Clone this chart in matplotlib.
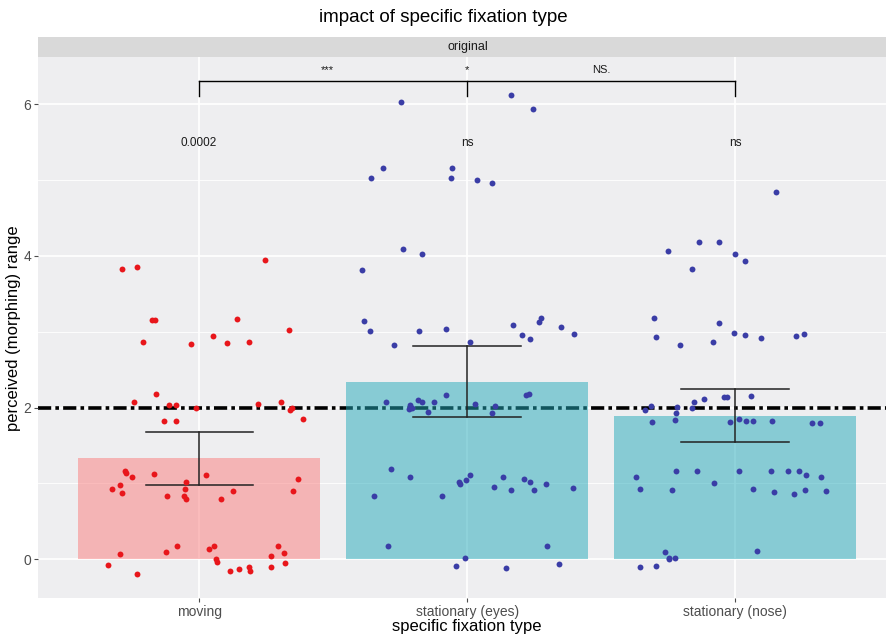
import matplotlib
matplotlib.use("Agg")
import matplotlib.pyplot as plt
import numpy as np

plt.rcParams['font.family'] = ['Liberation Sans', 'DejaVu Sans']
plt.rcParams['lines.scale_dashes'] = False

categories = ["moving", "stationary (eyes)", "stationary (nose)"]
bar_means = [1.33, 2.34, 1.89]
err_low = [0.98, 1.88, 1.55]
err_high = [1.68, 2.81, 2.24]
p_labels = ["0.0002", "ns", "ns"]
bracket_labels = ["***", "*", "NS."]
ref_level = 2.0

moving_jit = [-0.288, -0.231, 0.247, -0.176, -0.164, 0.141, 0.335, -0.209, -0.030, 0.053,
              0.104, 0.185, -0.162, -0.244, -0.113, -0.086, -0.011, 0.221, 0.306, 0.340,
              0.348, 0.387, -0.132, -0.087, -0.276, -0.272, -0.249, -0.167, -0.049, 0.026,
              0.369, -0.325, -0.295, -0.286, -0.121, -0.053, -0.055, -0.050, 0.081, 0.128,
              0.351, -0.081, -0.122, -0.294, 0.038, 0.057, 0.062, 0.066, 0.294, 0.316,
              0.268, -0.341, -0.231, 0.115, 0.148, 0.185, 0.191, 0.270, 0.321]
moving_y = [3.83, 3.85, 3.95, 3.16, 3.15, 3.17, 3.02, 2.87, 2.84, 2.94,
            2.85, 2.86, 2.18, 2.08, 2.03, 2.03, 2.00, 2.05, 2.08, 1.97,
            1.99, 1.85, 1.83, 1.83, 1.17, 1.14, 1.08, 1.13, 1.02, 1.11,
            1.06, 0.93, 0.98, 0.88, 0.83, 0.93, 0.83, 0.80, 0.80, 0.90,
            0.90, 0.18, 0.10, 0.07, 0.13, 0.17, 0.00, -0.04, 0.18, 0.08,
            0.04, -0.07, -0.19, -0.15, -0.13, -0.10, -0.16, -0.10, -0.05]

eyes_jit = [-0.246, 0.165, 0.247, -0.315, -0.359, -0.056, -0.061, 0.036, 0.092, -0.238,
            -0.169, -0.393, -0.385, 0.276, 0.269, 0.173, -0.361, -0.179, -0.079, 0.205,
            0.234, 0.350, 0.399, -0.271, 0.011, -0.301, -0.212, -0.218, -0.204, -0.183,
            -0.169, -0.147, -0.124, -0.079, 0.029, 0.104, 0.094, 0.219, 0.230, -0.284,
            -0.212, -0.348, -0.094, -0.030, -0.027, -0.003, 0.009, 0.134, 0.101, 0.163,
            0.214, 0.234, 0.249, 0.294, 0.394, -0.294, 0.297, -0.009, -0.042, 0.144, 0.344]
eyes_y = [6.03, 6.12, 5.94, 5.16, 5.03, 5.16, 5.03, 5.00, 4.96, 4.09,
          4.03, 3.81, 3.14, 3.18, 3.13, 3.09, 3.01, 3.01, 3.04, 2.96,
          2.90, 3.06, 2.97, 2.83, 2.87, 2.07, 2.03, 1.98, 2.00, 2.10,
          2.07, 1.94, 2.07, 2.17, 2.05, 2.02, 1.93, 2.17, 2.18, 1.19,
          1.08, 0.83, 0.84, 1.02, 0.99, 1.05, 1.11, 1.09, 0.95, 0.92,
          1.06, 1.02, 0.91, 0.99, 0.94, 0.18, 0.18, 0.02, -0.09, -0.11, -0.06]

nose_jit = [0.152, -0.134, -0.060, -0.249, 0.001, 0.037, -0.162, -0.302, -0.060, -0.295,
            -0.206, -0.083, -0.005, 0.036, 0.096, 0.226, 0.256, 0.059, -0.041, -0.029,
            -0.116, -0.154, -0.160, -0.312, -0.335, -0.216, -0.219, -0.310, -0.225, -0.019,
            0.014, 0.042, 0.065, 0.137, 0.288, 0.318, -0.368, -0.354, -0.221, -0.144,
            -0.077, 0.014, -0.236, 0.068, 0.134, 0.198, 0.238, 0.264, 0.322, 0.144,
            0.220, 0.259, 0.341, -0.262, -0.246, -0.245, -0.224, 0.082, -0.356, -0.294]
nose_y = [4.85, 4.19, 4.19, 4.06, 4.02, 3.94, 3.83, 3.18, 3.11, 2.93,
          2.82, 2.87, 2.98, 2.96, 2.92, 2.94, 2.97, 2.15, 2.14, 2.14,
          2.11, 2.07, 2.00, 2.02, 1.97, 2.01, 1.93, 1.81, 1.84, 1.81,
          1.85, 1.83, 1.83, 1.83, 1.80, 1.80, 1.09, 0.93, 1.16, 1.16,
          1.01, 1.16, 0.91, 0.93, 1.17, 1.17, 1.17, 1.11, 1.09, 0.89,
          0.86, 0.92, 0.90, 0.09, 0.02, 0.00, 0.02, 0.11, -0.10, -0.09]

W, H = 887, 636
fig = plt.figure(figsize=(W / 100, H / 100), dpi=100)

left_px, right_px, top_px, bot_px = 38.3, 887, 57.3, 598.3
strip_top_px = 37
ax = fig.add_axes([left_px / W, 1 - bot_px / H, (right_px - left_px) / W, (bot_px - top_px) / H])
sax = fig.add_axes([left_px / W, 1 - top_px / H, (right_px - left_px) / W, (top_px - strip_top_px) / H])

panel_bg = "#EEEEF0"
ax.set_facecolor(panel_bg)
for s in ax.spines.values():
    s.set_visible(False)

x = np.arange(1, 4)
ax.set_xlim(0.4, 0.4 + (right_px - left_px) / 268.0)
ax.set_ylim(-0.514, 6.62)

# grid
for yv in [1, 3, 5]:
    ax.axhline(yv, color="white", lw=0.6, zorder=0.5)
for yv in [0, 2, 4, 6]:
    ax.axhline(yv, color="white", lw=1.2, zorder=0.5)
for xv in x:
    ax.axvline(xv, color="white", lw=1.2, zorder=0.5)

# reference line (below bars)
ln, = ax.plot([0.4, 3.7], [ref_level, ref_level], color="black", lw=2.6, zorder=1,
              solid_capstyle="butt", dash_capstyle="butt")
ln.set_dashes([9.5, 3.0, 2.6, 3.0])

bar_colors = ["#FA7C7C", "#22AABA", "#22AABA"]
ax.bar(x, bar_means, width=0.9, color=bar_colors, alpha=0.5, zorder=2, linewidth=0)

# error bars
for xi, lo, hi in zip(x, err_low, err_high):
    ax.plot([xi, xi], [lo, hi], color="#222222", lw=1.1, zorder=3)
    ax.plot([xi - 0.2, xi + 0.2], [lo, lo], color="#222222", lw=1.1, zorder=3)
    ax.plot([xi - 0.2, xi + 0.2], [hi, hi], color="#222222", lw=1.1, zorder=3)

# points
red = "#E8161B"
blue = "#3A3DA6"
ax.scatter(1 + np.array(moving_jit), moving_y, s=18, color=red, zorder=4, linewidths=0)
ax.scatter(2 + np.array(eyes_jit), eyes_y, s=18, color=blue, zorder=4, linewidths=0)
ax.scatter(3 + np.array(nose_jit), nose_y, s=18, color=blue, zorder=4, linewidths=0)

# p-value labels
for xi, lab in zip(x, p_labels):
    ax.text(xi, 5.49, lab, ha="center", va="center", fontsize=8.5, color="#1A1A1A", zorder=5)

# brackets
by, bt = 6.31, 6.11
ax.plot([1, 3], [by, by], color="black", lw=1.0, zorder=5, clip_on=False)
for xi in x:
    ax.plot([xi, xi], [bt, by], color="black", lw=1.0, zorder=5, clip_on=False)
for xi, lab in zip([1.48, 2.0, 2.5], bracket_labels):
    ax.text(xi, 6.45, lab, ha="center", va="center", fontsize=8, color="#1A1A1A", zorder=5)

# ticks
ax.set_xticks(x)
ax.set_xticklabels(categories, fontsize=10, color="#4D4D4D")
ax.set_yticks([0, 2, 4, 6])
ax.set_yticklabels(["0", "2", "4", "6"], fontsize=10, color="#4D4D4D")
ax.tick_params(axis="x", length=3, width=0.8, color="#4D4D4D", pad=1.5)
ax.tick_params(axis="y", length=3, width=0.8, color="#4D4D4D", pad=2)

ax.set_ylabel("perceived (morphing) range", fontsize=12, color="black", labelpad=2)
fig.text((199 + 268) / W, 1 - 626 / H, "specific fixation type", ha="center", va="center",
         fontsize=12, color="black")

# strip
sax.set_facecolor("#D9D9D9")
sax.set_xticks([])
sax.set_yticks([])
for s in sax.spines.values():
    s.set_visible(False)
sax.text((W / 2 - left_px + 24) / (right_px - left_px), 0.5, "original", transform=sax.transAxes,
         ha="center", va="center", fontsize=9, color="#1A1A1A")

fig.text(0.5, 1 - 18 / H, "impact of specific fixation type", ha="center", va="center",
         fontsize=13.5, color="black")

fig.savefig("out.png", dpi=100)
